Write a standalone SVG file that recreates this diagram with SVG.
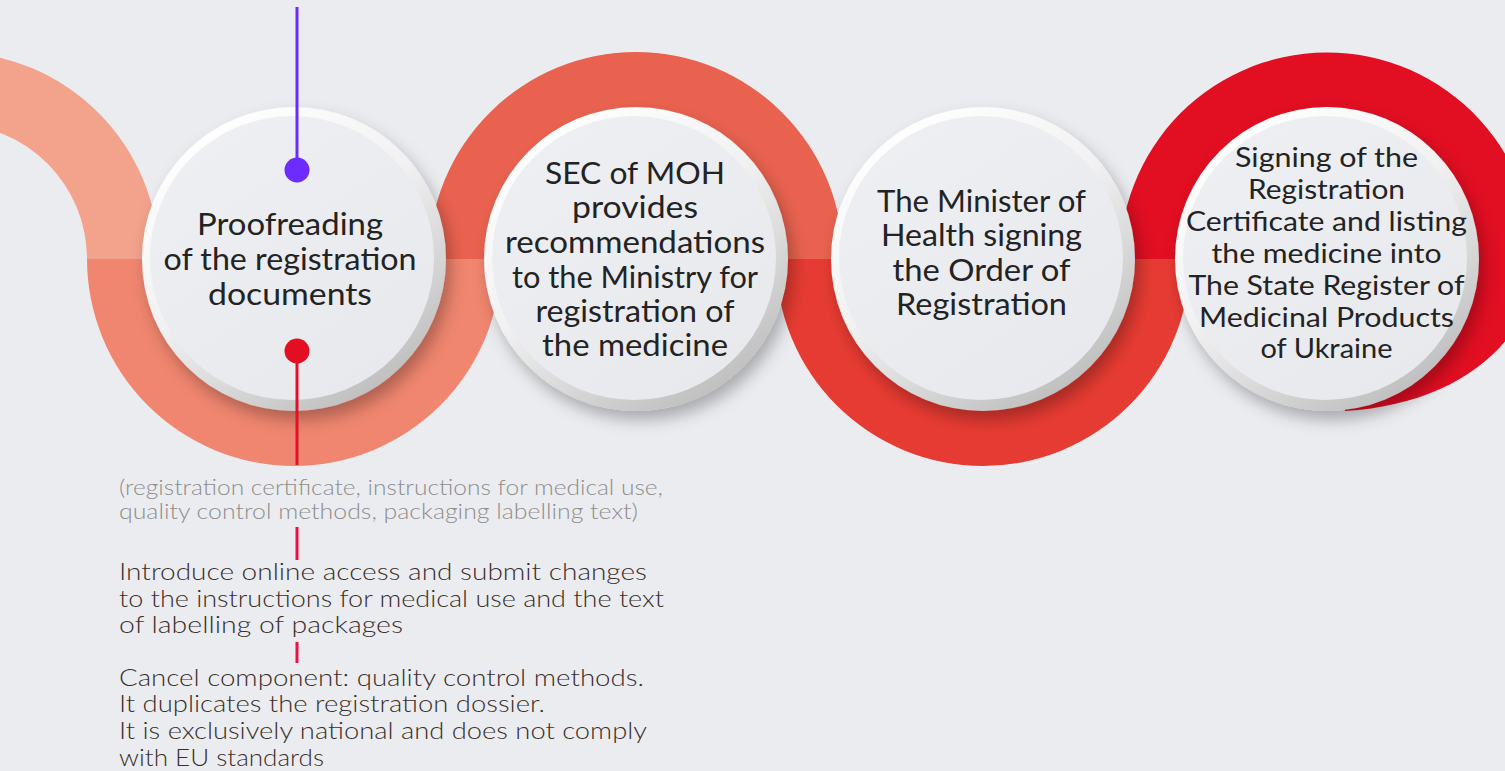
<svg xmlns="http://www.w3.org/2000/svg" width="1505" height="771" viewBox="0 0 1505 771">
  <defs>
    <linearGradient id="rimGrad" x1="0.2" y1="0.05" x2="0.8" y2="0.95">
      <stop offset="0" stop-color="#FFFFFF"/>
      <stop offset="0.45" stop-color="#F1F1F2"/>
      <stop offset="1" stop-color="#BDBDBE"/>
    </linearGradient>
    <linearGradient id="faceGrad" x1="0.2" y1="0.05" x2="0.8" y2="0.95">
      <stop offset="0" stop-color="#EEEFF2"/>
      <stop offset="1" stop-color="#E8E9ED"/>
    </linearGradient>
    <filter id="shadow" x="-20%" y="-20%" width="140%" height="140%">
      <feDropShadow dx="5" dy="9" stdDeviation="8" flood-color="#000000" flood-opacity="0.28"/>
    </filter>
    <style>
      .rim { fill: url(#rimGrad); filter: url(#shadow); }
      .face { fill: url(#faceGrad); }
      .lbl { font-family: "Lato", "Liberation Sans", sans-serif; font-size: 30px; fill: #232323; text-anchor: middle; }
      .lbl4 { font-family: "Lato", "Liberation Sans", sans-serif; font-size: 27px; fill: #232323; text-anchor: middle; }
      .note { font-family: "Lato", "Liberation Sans", sans-serif; font-weight: 300; font-size: 23px; fill: #3A2F2A; }
      .gray { font-family: "Lato", "Liberation Sans", sans-serif; font-weight: 300; font-size: 21px; fill: #8E8E8E; }
    </style>
  </defs>

  <rect x="0" y="0" width="1505" height="771" fill="#EBECF0"/>

  <g id="ring-band">
    <path d="M -255 259 A 207 207 0 0 1 159 259 L 87 259 A 135 135 0 0 0 -183 259 Z" fill="#F3A28C"/>
    <path d="M 87 259 A 207 207 0 0 0 501 259 Z" fill="#F0866F"/>
    <path d="M 429 259 A 207 207 0 0 1 843 259 Z" fill="#E9624F"/>
    <path d="M 776 259 A 207 207 0 0 0 1190 259 Z" fill="#E63B32"/>
    <path d="M 1120 259 A 207 207 0 1 1 1530 300 C 1505 362 1440 405 1345 411 L 1327 259 Z" fill="#E20E22"/>
  </g>

  <g id="node-1">
    <circle class="rim" cx="294" cy="259" r="152"/>
    <circle class="face" cx="292" cy="258" r="142"/>
    <text class="lbl" x="290" y="235" textLength="186" lengthAdjust="spacingAndGlyphs">Proofreading</text>
    <text class="lbl" x="290" y="270" textLength="253" lengthAdjust="spacingAndGlyphs">of the registration</text>
    <text class="lbl" x="290" y="305" textLength="164" lengthAdjust="spacingAndGlyphs">documents</text>
  </g>

  <g id="node-2">
    <circle class="rim" cx="636" cy="259" r="152"/>
    <circle class="face" cx="634" cy="258" r="142"/>
    <text class="lbl" x="635" y="184" textLength="180" lengthAdjust="spacingAndGlyphs">SEC of MOH</text>
    <text class="lbl" x="635" y="218" textLength="126" lengthAdjust="spacingAndGlyphs">provides</text>
    <text class="lbl" x="635" y="253" textLength="260" lengthAdjust="spacingAndGlyphs">recommendations</text>
    <text class="lbl" x="635" y="288" textLength="246" lengthAdjust="spacingAndGlyphs">to the Ministry for</text>
    <text class="lbl" x="635" y="322" textLength="199" lengthAdjust="spacingAndGlyphs">registration of</text>
    <text class="lbl" x="635" y="356" textLength="186" lengthAdjust="spacingAndGlyphs">the medicine</text>
  </g>

  <g id="node-3">
    <circle class="rim" cx="983" cy="259" r="152"/>
    <circle class="face" cx="981" cy="258" r="142"/>
    <text class="lbl" x="981.5" y="212" textLength="209" lengthAdjust="spacingAndGlyphs">The Minister of</text>
    <text class="lbl" x="981.5" y="246" textLength="201" lengthAdjust="spacingAndGlyphs">Health signing</text>
    <text class="lbl" x="981.5" y="281" textLength="178" lengthAdjust="spacingAndGlyphs">the Order of</text>
    <text class="lbl" x="981.5" y="315" textLength="171" lengthAdjust="spacingAndGlyphs">Registration</text>
  </g>

  <g id="node-4">
    <circle class="rim" cx="1327" cy="259" r="152"/>
    <circle class="face" cx="1325" cy="258" r="142"/>
    <text class="lbl4" x="1326.5" y="167" textLength="183" lengthAdjust="spacingAndGlyphs">Signing of the</text>
    <text class="lbl4" x="1326.5" y="199" textLength="157" lengthAdjust="spacingAndGlyphs">Registration</text>
    <text class="lbl4" x="1326.5" y="231" textLength="281" lengthAdjust="spacingAndGlyphs">Certificate and listing</text>
    <text class="lbl4" x="1326.5" y="263" textLength="230" lengthAdjust="spacingAndGlyphs">the medicine into</text>
    <text class="lbl4" x="1326.5" y="295" textLength="276" lengthAdjust="spacingAndGlyphs">The State Register of</text>
    <text class="lbl4" x="1326.5" y="327" textLength="255" lengthAdjust="spacingAndGlyphs">Medicinal Products</text>
    <text class="lbl4" x="1326.5" y="358" textLength="132" lengthAdjust="spacingAndGlyphs">of Ukraine</text>
  </g>

  <g id="connectors">
    <line x1="297" y1="7" x2="297" y2="170" stroke="#6C2BFF" stroke-width="3"/>
    <circle cx="297" cy="170" r="12.5" fill="#6C2BFF"/>
    <line x1="297" y1="351" x2="297" y2="465" stroke="#E50F27" stroke-width="3"/>
    <circle cx="297" cy="351" r="12.5" fill="#E30E22"/>
    <line x1="297" y1="527" x2="297" y2="560" stroke="#EC1149" stroke-width="3"/>
    <line x1="297" y1="642" x2="297" y2="663" stroke="#EC1149" stroke-width="3"/>
  </g>

  <g id="notes">
    <text class="gray" x="119" y="495" textLength="544" lengthAdjust="spacingAndGlyphs">(registration certificate, instructions for medical use,</text>
    <text class="gray" x="119" y="519" textLength="519" lengthAdjust="spacingAndGlyphs">quality control methods, packaging labelling text)</text>
    <text class="note" x="119" y="580" textLength="528" lengthAdjust="spacingAndGlyphs">Introduce online access and submit changes</text>
    <text class="note" x="119" y="607" textLength="545" lengthAdjust="spacingAndGlyphs">to the instructions for medical use and the text</text>
    <text class="note" x="119" y="633" textLength="284" lengthAdjust="spacingAndGlyphs">of labelling of packages</text>
    <text class="note" x="119" y="686" textLength="525" lengthAdjust="spacingAndGlyphs">Cancel component: quality control methods.</text>
    <text class="note" x="119" y="712" textLength="426" lengthAdjust="spacingAndGlyphs">It duplicates the registration dossier.</text>
    <text class="note" x="119" y="739" textLength="528" lengthAdjust="spacingAndGlyphs">It is exclusively national and does not comply</text>
    <text class="note" x="119" y="766" textLength="205" lengthAdjust="spacingAndGlyphs">with EU standards</text>
  </g>
</svg>
